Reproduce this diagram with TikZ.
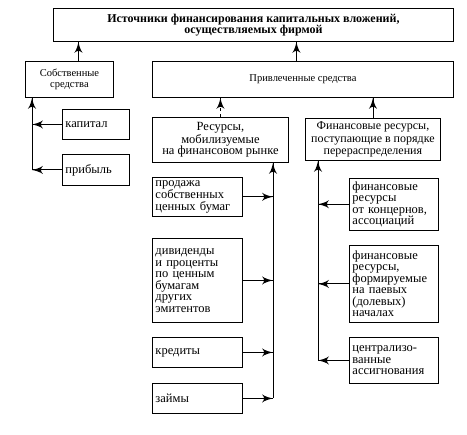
\documentclass[tikz,border=0pt]{standalone}
\usepackage{fontspec}
\setmainfont{Liberation Serif}
\usepackage{tikz}
\usetikzlibrary{arrows}
\usetikzlibrary{decorations.markings}
\usetikzlibrary{positioning}
\tikzset{->/.style = {decoration={markings,
                                  mark=at position 1 with {\arrow[scale=2]{latex'}}},
                      postaction={decorate}}}
\tikzset{box/.style = {draw, line width=0.9pt, inner sep=3pt, anchor=north west,
                       font=\fontsize{12.5}{11.5}\selectfont}}
\tikzset{leftbox/.style = {box, align=left}}
\tikzset{midbox/.style = {box, align=center}}

\begin{document}
\begin{tikzpicture}[x=1pt, y=-1pt, line width=0.9pt]
      \useasboundingbox (0, 0) rectangle (467, 435);

      % upper levels
      \node [midbox, minimum width=400pt, minimum height=33pt,
             font=\bfseries\fontsize{12}{11}\selectfont] (top) at (53, 8)
            {Источники финансирования капитальных вложений,\\осуществляемых фирмой};
      \node [midbox, minimum width=88pt, minimum height=36pt,
             font=\fontsize{10.5}{11}\selectfont] (own) at (25, 61)
            {Собственные\\средства};
      \node [midbox, minimum width=301pt, minimum height=36pt,
             font=\fontsize{10.5}{11}\selectfont] (attr) at (152, 61)
            {Привлеченные средства};
      \node [midbox, minimum width=136pt, minimum height=45pt] (market) at (152, 117)
            {Ресурсы,\\мобилизуемые\\на финансовом рынке};
      \node [midbox, minimum width=135pt, minimum height=42pt,
             font=\fontsize{12}{12.5}\selectfont] (redis) at (305, 118)
            {Финансовые ресурсы,\\поступающие в порядке\\перераспределения};

      % own funds
      \node [leftbox, text width=61pt, minimum height=30pt] (capital) at (62, 109) {капитал};
      \node [leftbox, text width=61pt, minimum height=31pt] (profit) at (62, 154) {прибыль};

      % market
      \node [leftbox, text width=84pt, minimum height=38pt] (sale) at (152, 177)
            {продажа\\собственных\\ценных бумаг};
      \node [leftbox, text width=84pt, minimum height=84pt] (divid) at (152, 238)
            {дивиденды\\и проценты\\по ценным\\бумагам\\других\\эмитентов};
      \node [leftbox, text width=84pt, minimum height=30pt] (credit) at (152, 337) {кредиты};
      \node [leftbox, text width=84pt, minimum height=30pt] (loan) at (152, 383) {займы};

      % redistribution
      \node [leftbox, text width=83pt, minimum height=49pt] (concern) at (349, 178)
            {финансовые\\ресурсы\\от концернов,\\ассоциаций};
      \node [leftbox, text width=83pt, minimum height=77pt] (share) at (349, 245)
            {финансовые\\ресурсы,\\формируемые\\на паевых\\(долевых)\\началах};
      \node [leftbox, text width=83pt, minimum height=46pt] (central) at (349, 337)
            {централизо-\\ванные\\ассигнования};

      \coordinate (lbus) at (32, 170);
      \coordinate (mbus) at (273, 398);
      \coordinate (rbus) at (318, 360);

      \draw [->] ([xshift=9pt]own.north) -- ([xshift=9pt]own.north |- top.south);
      \draw [->] ([xshift=-6.5pt]attr.north) -- ([xshift=-6.5pt]attr.north |- top.south);
      \draw [->, dashed] (market.north) -- (market.north |- attr.south);
      \draw [->] (redis.north) -- (redis.north |- attr.south);

      \draw [->] (lbus) -- (lbus |- own.south);
      \draw [->] (capital.west) -- (capital.west -| lbus);
      \draw [->] (profit.west) -- (profit.west -| lbus);

      \draw [->] (mbus) -- (mbus |- market.south);
      \draw [->] (sale.east) -- (sale.east -| mbus);
      \draw [->] (divid.east) -- (divid.east -| mbus);
      \draw [->] (credit.east) -- (credit.east -| mbus);
      \draw [->] (loan.east) -- (loan.east -| mbus);

      \draw [->] (rbus) -- (rbus |- redis.south);
      \draw [->] (concern.west) -- (concern.west -| rbus);
      \draw [->] (share.west) -- (share.west -| rbus);
      \draw [->] (central.west) -- (central.west -| rbus);
    \end{tikzpicture}
\end{document}
